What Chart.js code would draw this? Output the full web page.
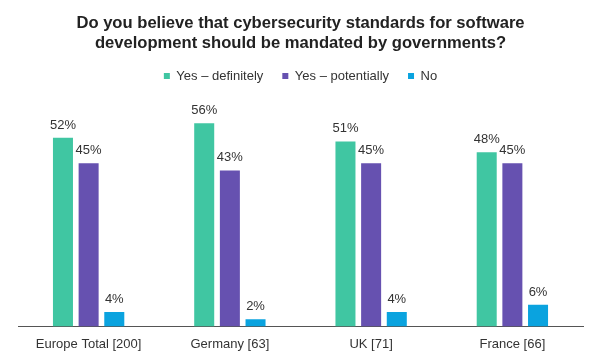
<!DOCTYPE html>
<html>
<head>
<meta charset="utf-8">
<script src="https://cdn.jsdelivr.net/npm/chart.js@4"></script>
<style>
  html, body { margin: 0; padding: 0; background: #fff; }
  #wrap { width: 601px; height: 360px; position: relative; }
</style>
</head>
<body>
<div id="wrap"><canvas id="chart"></canvas></div>
<script>
// dati
const categories = ['Europe Total [200]', 'Germany [63]', 'UK [71]', 'France [66]'];
const yesDefinitely = [52, 56, 51, 48];
const yesPotentially = [45, 43, 45, 45];
const noAnswer = [4, 2, 4, 6];

// etichette sopra le barre
const valueLabels = {
    id: 'valueLabels',
    afterDatasetsDraw(chart) {
        const ctx = chart.ctx;
        ctx.save();
        ctx.font = '13px "Liberation Sans", Arial, sans-serif';
        ctx.fillStyle = '#333';
        ctx.textAlign = 'center';
        ctx.textBaseline = 'alphabetic';
        chart.data.datasets.forEach((ds, i) => {
            chart.getDatasetMeta(i).data.forEach((bar, j) => {
                ctx.fillText(ds.data[j] + '%', bar.x, bar.y - 9);
            });
        });
        ctx.restore();
    }
};

new Chart(document.getElementById('chart'), {
    type: 'bar',
    data: {
        labels: categories,
        datasets: [
            { label: 'Yes \u2013 definitely', data: yesDefinitely, backgroundColor: '#40C6A2' },
            { label: 'Yes \u2013 potentially', data: yesPotentially, backgroundColor: '#6651B0' },
            { label: 'No', data: noAnswer, backgroundColor: '#0AA3DF' }
        ]
    },
    options: {
        responsive: true,
        maintainAspectRatio: false,
        animation: false,
        layout: { padding: { left: 18, right: 18, top: 3, bottom: 6 } },
        datasets: { bar: { categoryPercentage: 0.545, barPercentage: 0.78 } },
        scales: {
            x: {
                grid: { display: false },
                border: { display: true, color: '#555', width: 1 },
                ticks: {
                    color: '#333',
                    padding: 2,
                    font: { family: '"Liberation Sans", Arial, sans-serif', size: 13 }
                }
            },
            y: { display: false, min: 0, max: 64.5 }
        },
        plugins: {
            title: {
                display: true,
                text: ['Do you believe that cybersecurity standards for software',
                       'development should be mandated by governments?'],
                color: '#222',
                font: { family: '"Liberation Sans", Arial, sans-serif', size: 16.6, weight: 'bold', lineHeight: 1.22 },
                padding: { top: 10, bottom: -3 }
            },
            legend: {
                labels: {
                    color: '#333',
                    boxWidth: 6,
                    boxHeight: 6,
                    padding: 19,
                    font: { family: '"Liberation Sans", Arial, sans-serif', size: 13 }
                }
            },
            tooltip: { enabled: false }
        }
    },
    plugins: [valueLabels]
});
</script>
</body>
</html>
